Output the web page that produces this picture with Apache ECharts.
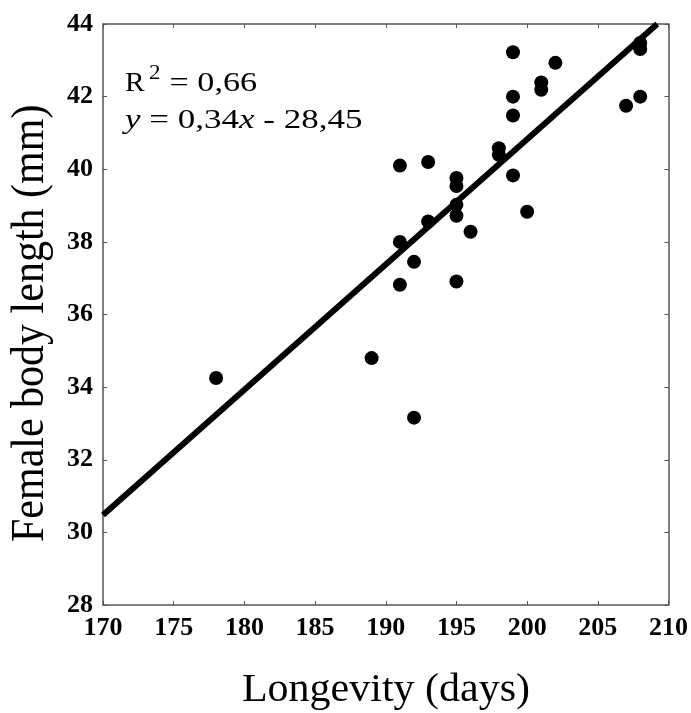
<!DOCTYPE html>
<html>
<head>
<meta charset="utf-8">
<script src="https://cdn.jsdelivr.net/npm/echarts@6/dist/echarts.min.js"></script>
<style>
html,body{margin:0;padding:0;background:#fff;}
#chart{width:691px;height:713px;}
</style>
</head>
<body>
<div id="chart"></div>
<script>
// Data
const longevity  = [178, 189, 191, 191, 191, 192, 192, 193, 193, 195, 195, 195, 195, 195, 196, 198, 198, 199, 199, 199, 199, 200, 201, 201, 202, 207, 208, 208, 208];
const bodyLength = [34.25, 34.8, 40.1, 38.0, 36.82, 37.45, 33.16, 40.2, 38.56, 39.76, 39.54, 39.02, 38.72, 36.91, 38.28, 40.58, 40.4, 43.22, 42.0, 41.48, 39.83, 38.83, 42.39, 42.19, 42.93, 41.75, 42.0, 43.48, 43.31];
// Regression line as drawn (end points)
const fitX = [170, 209.2];
const fitY = [30.48, 44];
// Axis ranges [min, max, interval]
const xRange = [170, 210, 5];
const yRange = [28, 44, 2];
// Texts
const xTitle = 'Longevity (days)';
const yTitle = 'Female body length (mm)';
const r2Text = ['R', '2', ' = 0,66'];
const eqText = '{i|y}{r| = 0,34}{i|x}{r| - 28,45}';

const points = longevity.map((x, i) => [x, bodyLength[i]]);
const fitLine = fitX.map((x, i) => [x, fitY[i]]);

const chart = echarts.init(document.getElementById('chart'), null, {renderer: 'canvas'});
const axisCol = '#555';
const serif = "'Liberation Serif', 'Times New Roman', serif";

function axisLabelStyle(show) {
  return {
    show: show, margin: 10, color: '#000',
    fontFamily: serif, fontWeight: 'bold', fontSize: 26
  };
}
function xAx(pos, showLabel) {
  return {
    type: 'value', position: pos, min: xRange[0], max: xRange[1], interval: xRange[2],
    axisLine: {show: true, onZero: false, lineStyle: {color: axisCol, width: 1.5}},
    axisTick: {show: true, inside: true, length: 4, lineStyle: {color: axisCol, width: 1}},
    axisLabel: axisLabelStyle(showLabel),
    splitLine: {show: false}
  };
}
function yAx(pos, showLabel) {
  return {
    type: 'value', position: pos, min: yRange[0], max: yRange[1], interval: yRange[2],
    axisLine: {show: true, onZero: false, lineStyle: {color: axisCol, width: 1.5}},
    axisTick: {show: true, inside: true, length: 4, lineStyle: {color: axisCol, width: 1}},
    axisLabel: axisLabelStyle(showLabel),
    splitLine: {show: false}
  };
}

chart.setOption({
  animation: false,
  backgroundColor: '#fff',
  grid: {left: 103, right: 21, top: 24, bottom: 108, containLabel: false},
  xAxis: [xAx('bottom', true), xAx('top', false)],
  yAxis: [yAx('left', true), yAx('right', false)],
  series: [
    {
      type: 'line', data: fitLine, xAxisIndex: 0, yAxisIndex: 0,
      symbol: 'none', lineStyle: {color: '#000', width: 6, opacity: 1}, z: 2
    },
    {
      type: 'scatter', data: points, xAxisIndex: 0, yAxisIndex: 0,
      symbol: 'circle', symbolSize: 14, itemStyle: {color: '#000', opacity: 1, borderWidth: 0}, z: 3
    }
  ],
  graphic: [
    {
      type: 'text', x: 386, y: 690, scaleX: 1.05,
      style: {text: xTitle, fontFamily: serif, fontSize: 40, fill: '#000',
              align: 'center', verticalAlign: 'middle', textAlign: 'center', textVerticalAlign: 'middle'}
    },
    {
      type: 'text', x: 31, y: 542, rotation: Math.PI / 2, scaleY: 1.12,
      style: {text: yTitle, fontFamily: serif, fontSize: 42, fill: '#000',
              align: 'left', verticalAlign: 'middle', textAlign: 'left', textVerticalAlign: 'middle'}
    },
    {
      type: 'text', x: 125, y: 84, scaleX: 1.05,
      style: {text: r2Text[0], fontFamily: serif, fontSize: 28, fill: '#000',
              align: 'left', verticalAlign: 'middle', textAlign: 'left', textVerticalAlign: 'middle'}
    },
    {
      type: 'text', x: 149, y: 74, scaleX: 1.15,
      style: {text: r2Text[1], fontFamily: serif, fontSize: 20, fill: '#000',
              align: 'left', verticalAlign: 'middle', textAlign: 'left', textVerticalAlign: 'middle'}
    },
    {
      type: 'text', x: 161, y: 84, scaleX: 1.22,
      style: {text: r2Text[2], fontFamily: serif, fontSize: 28, fill: '#000',
              align: 'left', verticalAlign: 'middle', textAlign: 'left', textVerticalAlign: 'middle'}
    },
    {
      type: 'text', x: 125, y: 121, scaleX: 1.25,
      style: {
        text: eqText,
        align: 'left', verticalAlign: 'middle', textAlign: 'left', textVerticalAlign: 'middle',
        rich: {
          r: {fontFamily: serif, fontSize: 28, lineHeight: 34, color: '#000'},
          i: {fontFamily: serif, fontSize: 28, fontStyle: 'italic', lineHeight: 34, color: '#000'}
        }
      }
    }
  ]
});
</script>
</body>
</html>
